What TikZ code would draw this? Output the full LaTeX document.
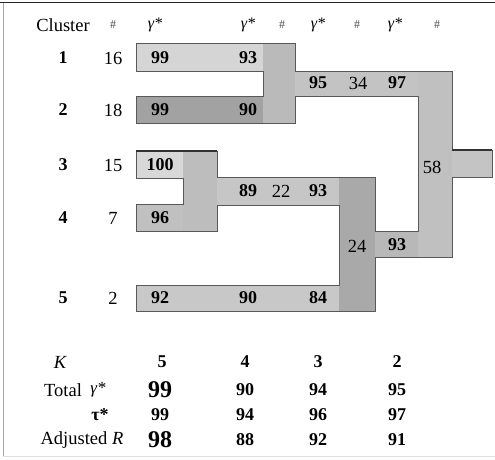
\documentclass[tikz,border=0pt]{standalone}
\usepackage{fontspec}
\setmainfont{Liberation Serif}
\newfontfamily\tms{Liberation Serif}
\begin{document}
\begin{tikzpicture}[x=1pt,y=-1pt,
  txt/.style={inner sep=0pt,anchor=center,font=\tms\fontsize{18.5}{21}\selectfont},
  bnum/.style={txt,font=\tms\fontsize{18}{21}\selectfont\bfseries},
  big/.style={txt,font=\tms\fontsize{24}{27}\selectfont\bfseries},
  hdr/.style={txt,font=\tms\fontsize{16}{18}\selectfont\itshape},
  hsh/.style={txt,font=\tms\fontsize{12}{14}\selectfont, text=black!70},
  outl/.style={draw=black!65,line width=0.9pt,line join=miter}]
\useasboundingbox (0,0) rectangle (495,459);
% frame
\draw[black!85,line width=1.4pt] (0,2.5) -- (495,2.5);
\draw[black!35,line width=0.8pt] (3,2.5) -- (3,456);
\draw[black!12,line width=0.8pt] (3,456) -- (495,456);
% fills
\fill[fill={rgb,255:red,213;green,213;blue,213}] (136,43) rectangle (263,71);
\fill[fill={rgb,255:red,162;green,162;blue,162}] (136,96) rectangle (263,123);
\fill[fill={rgb,255:red,186;green,186;blue,186}] (263,43) rectangle (295,123);
\fill[fill={rgb,255:red,195;green,195;blue,195}] (295,71) rectangle (418,96);
\fill[fill={rgb,255:red,192;green,192;blue,192}] (418,71) rectangle (452,257);
\fill[fill={rgb,255:red,196;green,196;blue,196}] (452,150) rectangle (492,177);
\fill[fill={rgb,255:red,216;green,216;blue,216}] (136,151) rectangle (183,178);
\fill[fill={rgb,255:red,189;green,189;blue,189}] (183,151) rectangle (217,231);
\fill[fill={rgb,255:red,192;green,192;blue,192}] (136,204) rectangle (183,231);
\fill[fill={rgb,255:red,198;green,198;blue,198}] (217,177) rectangle (339,205);
\fill[fill={rgb,255:red,200;green,200;blue,200}] (136,285) rectangle (339,311);
\fill[fill={rgb,255:red,169;green,169;blue,169}] (339,177) rectangle (375,311);
\fill[fill={rgb,255:red,184;green,184;blue,184}] (375,231) rectangle (418,257);
% outline
\draw[outl] (136,43) -- (295,43) -- (295,71) -- (452,71) -- (452,150) -- (492,150)
  -- (492,177) -- (452,177) -- (452,257) -- (375,257) -- (375,311) -- (136,311)
  -- (136,285) -- (339,285) -- (339,205) -- (217,205) -- (217,231) -- (136,231)
  -- (136,204) -- (183,204) -- (183,178) -- (136,178) -- (136,151) -- (217,151)
  -- (217,177) -- (375,177) -- (375,231) -- (418,231) -- (418,96) -- (295,96)
  -- (295,123) -- (136,123) -- (136,96) -- (263,96) -- (263,71) -- (136,71) -- cycle;
\draw[black!80,line width=1.6pt] (136,151) -- (217,151);
\draw[black!80,line width=1.6pt] (452,150) -- (492,150);
% header
\node[txt] (hcl) at (63,25) {Cluster};
\node[hsh] (hn0) at (113,25) {\#};
\node[hdr] (hg1) at (155,25) {γ*};
\node[hdr] (hg2) at (248,25) {γ*};
\node[hsh] (hn2) at (282,25) {\#};
\node[hdr] (hg3) at (318,25) {γ*};
\node[hsh] (hn3) at (357,25) {\#};
\node[hdr] (hg4) at (395,25) {γ*};
\node[hsh] (hn4) at (437,25) {\#};
% cluster labels and sizes
\node[bnum] (c1) at (63,58) {1};
\node[bnum] (c2) at (63,110) {2};
\node[bnum] (c3) at (63,165) {3};
\node[bnum] (c4) at (63,218) {4};
\node[bnum] (c5) at (63,298) {5};
\node[txt] (n1) at (113,58) {16};
\node[txt] (n2) at (113,110) {18};
\node[txt] (n3) at (113,165) {15};
\node[txt] (n4) at (113,218) {7};
\node[txt] (n5) at (113,298) {2};
% values in the tree
\node[bnum] (a1) at (160,58) {99};
\node[bnum] (b1) at (248,58) {93};
\node[bnum] (a2) at (160,110) {99};
\node[bnum] (b2) at (248,110) {90};
\node[bnum] (m95) at (318,83) {95};
\node[txt] (m34) at (358,83) {34};
\node[bnum] (m97) at (397,83) {97};
\node[txt] (m58) at (432,167) {58};
\node[bnum] (a3) at (160,165) {100};
\node[bnum] (a4) at (160,218) {96};
\node[bnum] (m89) at (248,191) {89};
\node[txt] (m22) at (281,191) {22};
\node[bnum] (m93a) at (318,191) {93};
\node[txt] (m24) at (357,246) {24};
\node[bnum] (m93b) at (397,245) {93};
\node[bnum] (a5) at (160,298) {92};
\node[bnum] (b5) at (248,298) {90};
\node[bnum] (d5) at (318,298) {84};
% bottom table
\node[txt,font=\tms\fontsize{18.5}{21}\selectfont\itshape] (kl) at (60,362) {K};
\node[bnum] (k5) at (162,362) {5};
\node[bnum] (k4) at (245,362) {4};
\node[bnum] (k3) at (318,362) {3};
\node[bnum] (k2) at (397,362) {2};
\node[txt] (tl) at (63,390) {Total};
\node[txt,font=\tms\fontsize{17}{20}\selectfont\itshape] (tg) at (98,390) {γ*};
\node[big] (g5) at (160,390) {99};
\node[bnum] (g4) at (245,390) {90};
\node[bnum] (g3) at (318,390) {94};
\node[bnum] (g2) at (397,390) {95};
\node[txt,font=\tms\fontsize{18}{21}\selectfont\bfseries] (tt) at (100,415) {τ*};
\node[bnum] (t5) at (160,415) {99};
\node[bnum] (t4) at (245,415) {94};
\node[bnum] (t3) at (318,415) {96};
\node[bnum] (t2) at (397,415) {97};
\node[txt] (al) at (82,440) {Adjusted \textit{R}};
\node[big] (r5) at (160,440) {98};
\node[bnum] (r4) at (245,440) {88};
\node[bnum] (r3) at (318,440) {92};
\node[bnum] (r2) at (397,440) {91};
\end{tikzpicture}
\end{document}
